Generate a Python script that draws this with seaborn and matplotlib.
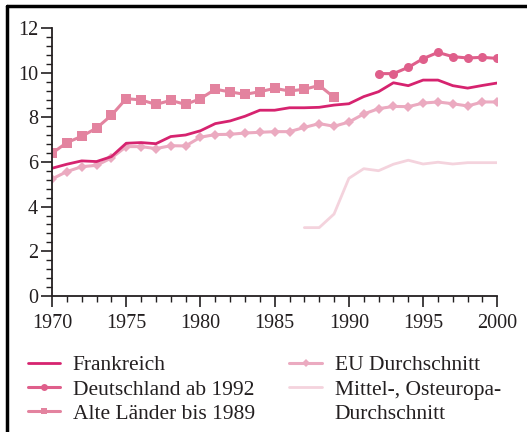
import pandas as pd
import matplotlib
matplotlib.use("Agg")
import matplotlib.pyplot as plt
import seaborn as sns
from matplotlib.ticker import MultipleLocator
from matplotlib.lines import Line2D

# Werte
jahre = list(range(1970, 2001))

frankreich = [5.72, 5.90, 6.05, 6.02, 6.24, 6.84, 6.87, 6.82, 7.14, 7.21,
              7.40, 7.72, 7.84, 8.05, 8.32, 8.32, 8.43, 8.43, 8.45, 8.55,
              8.61, 8.93, 9.15, 9.55, 9.42, 9.67, 9.67, 9.42, 9.31, 9.43, 9.54]

deutschland_jahre = list(range(1992, 2001))
deutschland = [9.96, 9.96, 10.24, 10.63, 10.91, 10.72, 10.66, 10.69, 10.64]

alte_laender_jahre = list(range(1970, 1990))
alte_laender = [6.39, 6.87, 7.15, 7.52, 8.09, 8.84, 8.78, 8.58, 8.76, 8.58,
                8.84, 9.26, 9.14, 9.03, 9.15, 9.30, 9.18, 9.26, 9.43, 8.90]

eu = [5.24, 5.57, 5.79, 5.85, 6.18, 6.69, 6.69, 6.60, 6.73, 6.72,
      7.11, 7.23, 7.24, 7.30, 7.33, 7.36, 7.36, 7.55, 7.72, 7.60,
      7.79, 8.15, 8.39, 8.49, 8.48, 8.64, 8.69, 8.61, 8.51, 8.69, 8.69]

moe_jahre = list(range(1987, 2001))
moe = [3.06, 3.06, 3.67, 5.27, 5.70, 5.61, 5.90, 6.08, 5.91, 5.99,
       5.91, 5.97, 5.97, 5.97]

farben = {
    "Frankreich": "#d6236f",
    "Deutschland ab 1992": "#df5f8b",
    "Alte Länder bis 1989": "#e3839f",
    "EU Durchschnitt": "#ebaac0",
    "Mittel-, Osteuropa-": "#f4d3dd",
}

sns.set_style("ticks")
plt.rcParams['font.family'] = ['Liberation Serif', 'DejaVu Serif']
textfarbe = "#231f20"

fig = plt.figure(figsize=(5.27, 4.32), dpi=100)
ax = fig.add_axes([0.0987, 0.315, 0.845, 0.62])

sns.lineplot(x=moe_jahre, y=moe, ax=ax, color=farben["Mittel-, Osteuropa-"], lw=2)
sns.lineplot(x=jahre, y=eu, ax=ax, color=farben["EU Durchschnitt"], lw=2.2,
             marker="D", markersize=5, markeredgewidth=0)
sns.lineplot(x=alte_laender_jahre, y=alte_laender, ax=ax, color=farben["Alte Länder bis 1989"], lw=2.2,
             marker="s", markersize=6.5, markeredgewidth=0)
sns.lineplot(x=jahre, y=frankreich, ax=ax, color=farben["Frankreich"], lw=2)
sns.lineplot(x=deutschland_jahre, y=deutschland, ax=ax, color=farben["Deutschland ab 1992"], lw=2.2,
             marker="o", markersize=6.5, markeredgewidth=0)

ax.set_xlim(1970, 2000)
ax.set_ylim(0, 12)
ax.xaxis.set_major_locator(MultipleLocator(5))
ax.xaxis.set_minor_locator(MultipleLocator(1))
ax.yaxis.set_major_locator(MultipleLocator(2))
ax.yaxis.set_minor_locator(MultipleLocator(0.4))
ax.tick_params(which="major", length=8, width=1.2, color=textfarbe, labelsize=14.5,
               labelcolor=textfarbe, pad=2)
ax.tick_params(which="minor", length=4.5, width=1.0, color=textfarbe)
ax.tick_params(axis="x", pad=5)
for s in ["left", "bottom"]:
    ax.spines[s].set_linewidth(1.3)
    ax.spines[s].set_color(textfarbe)
sns.despine(ax=ax)
ax.set_xlabel("")
ax.set_ylabel("")

handles = [
    Line2D([], [], color=farben["Frankreich"], lw=2),
    Line2D([], [], color=farben["Deutschland ab 1992"], lw=2.2, marker="o", markersize=5, markeredgewidth=0),
    Line2D([], [], color=farben["Alte Länder bis 1989"], lw=2.2, marker="s", markersize=5, markeredgewidth=0),
    Line2D([], [], color=farben["EU Durchschnitt"], lw=2.2, marker="D", markersize=4, markeredgewidth=0),
    Line2D([], [], color=farben["Mittel-, Osteuropa-"], lw=2),
    Line2D([], [], alpha=0),
]
labels = list(farben.keys()) + [" "]
leg = fig.legend(handles, labels, ncol=2, loc="upper left",
                 bbox_to_anchor=(0.032, 0.203), frameon=False, fontsize=15.5,
                 labelcolor=textfarbe, handlelength=1.5, handletextpad=0.6,
                 columnspacing=1.6, labelspacing=0.2, borderpad=0)
# zweite Zeile der letzten Legendenbeschriftung
fig.canvas.draw()
t_leer = leg.get_texts()[-1]
t_leer.set_text("Durchschnitt")

# Rahmen oben und links
fig.add_artist(Line2D([0.013, 1.0], [0.985, 0.985], color="black", lw=2.5, transform=fig.transFigure))
fig.add_artist(Line2D([0.013, 0.013], [0.0, 0.985], color="black", lw=2.5, transform=fig.transFigure))

fig.savefig("out.png", dpi=100)
